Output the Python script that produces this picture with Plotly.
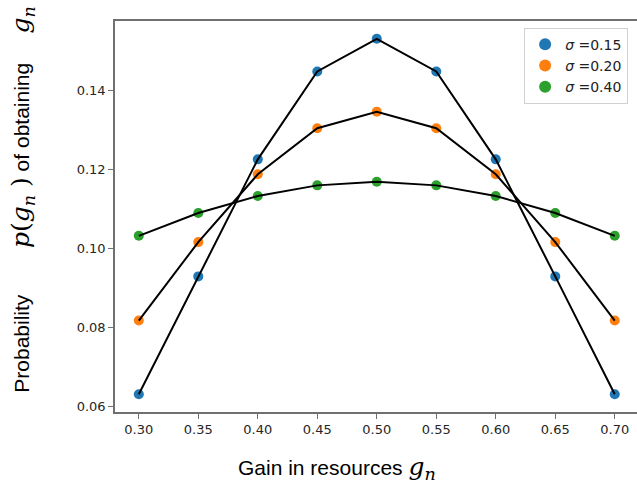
import plotly.graph_objects as go

gains = [0.30, 0.35, 0.40, 0.45, 0.50, 0.55, 0.60, 0.65, 0.70]
p_015 = [0.0630, 0.0929, 0.1226, 0.1449, 0.1532, 0.1449, 0.1226, 0.0929, 0.0630]
p_020 = [0.0817, 0.1016, 0.1188, 0.1305, 0.1347, 0.1305, 0.1188, 0.1016, 0.0817]
p_040 = [0.1032, 0.1090, 0.1133, 0.1160, 0.1169, 0.1160, 0.1133, 0.1090, 0.1032]
series_names = ["<i>σ</i> =0.15", "<i>σ</i> =0.20", "<i>σ</i> =0.40"]
series_values = [p_015, p_020, p_040]
colors = ["#1f77b4", "#ff7f0e", "#2ca02c"]
x_ticks = [0.30, 0.35, 0.40, 0.45, 0.50, 0.55, 0.60, 0.65, 0.70]
y_ticks = [0.06, 0.08, 0.10, 0.12, 0.14]

fig = go.Figure()
for name, vals, c in zip(series_names, series_values, colors):
    fig.add_trace(go.Scatter(x=gains, y=vals, mode="markers", name=name,
                             marker=dict(color=c, size=10, line=dict(width=0))))
for vals in series_values:
    fig.add_trace(go.Scatter(x=gains, y=vals, mode="lines", showlegend=False,
                             line=dict(color="black", width=2), hoverinfo="skip"))

tickfont = dict(family="DejaVu Sans", size=13, color="#262626")
fig.update_layout(
    width=637, height=490,
    margin=dict(l=115, r=0, t=21, b=78),
    paper_bgcolor="white", plot_bgcolor="white",
    legend=dict(x=0.983, y=0.983, xanchor="right", yanchor="top",
                bordercolor="#d0d0d0", borderwidth=1, bgcolor="white",
                font=dict(family="DejaVu Sans", size=14, color="#222222"),
                itemsizing="constant"),
    xaxis=dict(range=[0.28, 0.7187], tickvals=x_ticks, ticktext=[f"{v:.2f}" for v in x_ticks],
               showgrid=False, zeroline=False, showline=True, linecolor="#707070", linewidth=1.5,
               mirror=True, ticks="outside", ticklen=5, tickcolor="#707070", tickfont=tickfont),
    yaxis=dict(range=[0.05849, 0.15771], tickvals=y_ticks, ticktext=[f"{v:.2f}" for v in y_ticks],
               showgrid=False, zeroline=False, showline=True, linecolor="#707070", linewidth=1.5,
               ticks="outside", ticklen=5, tickcolor="#707070", tickfont=tickfont),
)

mathstyle = "font-family:'DejaVu Serif';font-size:25px"
gn = f"<span style=\"{mathstyle}\"><i>g</i><sub><i>n</i></sub></span>"
pgn = f"<span style=\"{mathstyle}\"><i>p</i>(<i>g</i><sub><i>n</i></sub> )</span>"
fig.add_annotation(
    text=f"Gain in resources {gn}",
    xref="paper", yref="paper", x=(337 - 115) / 522, y=-(468 - 412) / 390.5,
    xanchor="center", yanchor="middle", showarrow=False,
    font=dict(family="Liberation Sans", size=21, color="black"))
fig.add_annotation(
    text=f"Probability        {pgn} of obtaining     {gn}",
    xref="paper", yref="paper", x=-(115 - 22) / 522, y=(412 - 200) / 390.5,
    xanchor="center", yanchor="middle", showarrow=False, textangle=-90,
    font=dict(family="Liberation Sans", size=21, color="black"))

fig.write_html("out.html")
